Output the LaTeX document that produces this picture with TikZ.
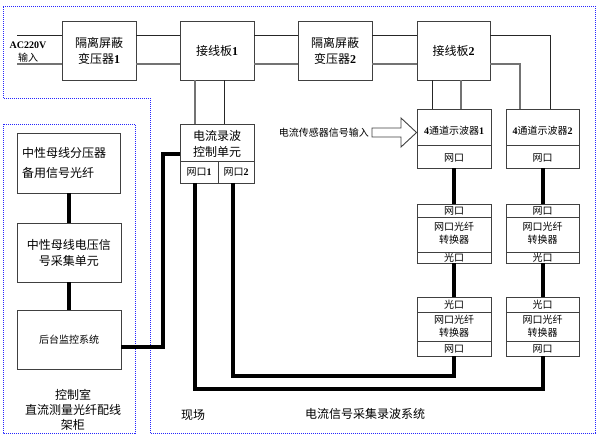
\documentclass[tikz,border=0pt]{standalone}
\usepackage{fontspec}
\setmainfont{Liberation Serif}
\newfontfamily\cjk{Noto Sans CJK SC}
\newcommand\D[1]{{\rmfamily\bfseries #1}}
\begin{document}
\begin{tikzpicture}[x=1pt,y=-1pt,
 box/.style={draw=black!75, line width=0.9pt, fill=white, inner sep=0pt, align=center},
 boxline/.style={draw=black!75, line width=0.9pt},
 big/.style={font=\cjk\fontsize{12}{16}\selectfont},
 small/.style={font=\cjk\fontsize{10}{13}\selectfont},
 lbl/.style={inner sep=0pt, align=center},
 wireA/.style={draw=black!85, line width=0.9pt},
 wireB/.style={draw=black!55, line width=1.2pt},
 fiber/.style={draw=black, line width=4pt},
 region/.style={draw=blue!85, line width=0.8pt, dash pattern=on 1pt off 1pt}]
\useasboundingbox (0,0) rectangle (597,440);

% regions
\draw[region] (3,6) -- (595,6) -- (595,433) -- (150,433) -- (150,98) -- (3,98) -- cycle;
\draw[region] (3,124) rectangle (135,433);

% helper coordinates
\coordinate (yT) at (0,35);
\coordinate (yB) at (0,64);
\coordinate (ac1) at (17,35);
\coordinate (ac2) at (17,64);
\coordinate (xa) at (195,0);
\coordinate (xb) at (224,0);
\coordinate (xc) at (432,0);
\coordinate (xd) at (461,0);
\coordinate (xe) at (520,0);
\coordinate (xf) at (550,0);
\coordinate (xL) at (163,0);
\coordinate (yL) at (0,347);
\coordinate (xp1) at (195,0);
\coordinate (xp2) at (233,0);
\coordinate (yb1) at (0,389);
\coordinate (yb2) at (0,376);

% top row
\node[box, big, minimum width=74, minimum height=59] (t1) at (99,50.5) {隔离屏蔽\\变压器\D{1}};
\node[box, big, minimum width=74, minimum height=59] (j1) at (217,50.5) {接线板\D{1}};
\node[box, big, minimum width=74, minimum height=59] (t2) at (335,50.5) {隔离屏蔽\\变压器\D{2}};
\node[box, big, minimum width=73, minimum height=59] (j2) at (453.5,50.5) {接线板\D{2}};

\node[lbl, font=\rmfamily\bfseries\fontsize{10}{12}\selectfont] (ac) at (28,45) {AC220V};
\node[lbl, small] (acin) at (28,58) {输入};

% control unit
\node[box, minimum width=74, minimum height=59] (cu) at (217,153.5) {};
\draw[boxline] (180,161) -- (254,161) (218,161) -- (218,183);
\node[lbl, big] (cut) at (217,143.5) {电流录波\\控制单元};
\node[lbl, small] (cup1) at (199,171.5) {网口\D{1}};
\node[lbl, small] (cup2) at (236,171.5) {网口\D{2}};

% oscilloscopes
\node[box, minimum width=74, minimum height=59] (o1) at (454,138.5) {};
\draw[boxline] (417,145) -- (491,145);
\node[lbl, small] (o1t) at (454,130.5) {\D{4}通道示波器\D{1}};
\node[lbl, small] (o1p) at (454,158) {网口};
\node[box, minimum width=73, minimum height=59] (o2) at (542.5,138.5) {};
\draw[boxline] (506,145) -- (579,145);
\node[lbl, small] (o2t) at (542.5,130.5) {\D{4}通道示波器\D{2}};
\node[lbl, small] (o2p) at (542.5,158) {网口};

% upper converters
\node[box, minimum width=74, minimum height=59] (c1) at (454,233.5) {};
\draw[boxline] (417,217) -- (491,217) (417,252) -- (491,252);
\node[lbl, small] (c1a) at (454,210.5) {网口};
\node[lbl, small] (c1b) at (454,233) {网口光纤\\转换器};
\node[lbl, small] (c1c) at (454,257.5) {光口};
\node[box, minimum width=73, minimum height=59] (c2) at (542.5,233.5) {};
\draw[boxline] (506,217) -- (579,217) (506,252) -- (579,252);
\node[lbl, small] (c2a) at (542.5,210.5) {网口};
\node[lbl, small] (c2b) at (542.5,233) {网口光纤\\转换器};
\node[lbl, small] (c2c) at (542.5,257.5) {光口};

% lower converters
\node[box, minimum width=74, minimum height=59] (d1) at (454,326.5) {};
\draw[boxline] (417,312) -- (491,312) (417,341) -- (491,341);
\node[lbl, small] (d1a) at (454,304.5) {光口};
\node[lbl, small] (d1b) at (454,326) {网口光纤\\转换器};
\node[lbl, small] (d1c) at (454,348.5) {网口};
\node[box, minimum width=73, minimum height=59] (d2) at (542.5,326.5) {};
\draw[boxline] (506,312) -- (579,312) (506,341) -- (579,341);
\node[lbl, small] (d2a) at (542.5,304.5) {光口};
\node[lbl, small] (d2b) at (542.5,326) {网口光纤\\转换器};
\node[lbl, small] (d2c) at (542.5,348.5) {网口};

% control room boxes
\node[box, minimum width=103, minimum height=60] (m1) at (68.5,163) {};
\node[lbl, big, align=left, anchor=west] (m1t) at (22,163) {中性母线分压器\\[4pt]备用信号光纤};
\node[box, big, minimum width=104, minimum height=59] (m2) at (69,252.5) {中性母线电压信\\号采集单元};
\node[box, small, minimum width=104, minimum height=59] (m3) at (69,339.5) {后台监控系统};

% labels
\node[lbl, big, font=\cjk\fontsize{12}{15}\selectfont] (ctl) at (73,410) {控制室\\直流测量光纤配线\\架柜};
\node[lbl, big] (site) at (193,415) {现场};
\node[lbl, big] (sys) at (365,414) {电流信号采集录波系统};

% sensor input arrow
\draw[draw=black!75, line width=0.9pt, fill=white]
  (372,128) -- (401,128) -- (401,118) -- (o1.west |- 0,132.5) -- (401,147) -- (401,137) -- (372,137) -- cycle;
\node[lbl, small, anchor=east] (sens) at (369,132.5) {电流传感器信号输入};

% power wiring
\draw[wireA] (ac1) -- (t1.west |- yT);
\draw[wireB] (ac2) -- (t1.west |- yB);
\draw[wireA] (t1.east |- yT) -- (j1.west |- yT);
\draw[wireB] (t1.east |- yB) -- (j1.west |- yB);
\draw[wireA] (j1.east |- yT) -- (t2.west |- yT);
\draw[wireB] (j1.east |- yB) -- (t2.west |- yB);
\draw[wireA] (t2.east |- yT) -- (j2.west |- yT);
\draw[wireB] (t2.east |- yB) -- (j2.west |- yB);
\draw[wireA] (j2.east |- yT) -- (xf |- yT) -- (o2.north -| xf);
\draw[wireB] (j2.east |- yB) -- (xe |- yB) -- (o2.north -| xe);
\draw[wireB] (j1.south -| xa) -- (cu.north -| xa);
\draw[wireA] (j1.south -| xb) -- (cu.north -| xb);
\draw[wireA] (j2.south -| xc) -- (o1.north -| xc);
\draw[wireB] (j2.south -| xd) -- (o1.north -| xd);

% fiber / network links
\draw[fiber] (o1.south) -- (c1.north);
\draw[fiber] (c1.south) -- (d1.north);
\draw[fiber] (o2.south) -- (c2.north);
\draw[fiber] (c2.south) -- (d2.north);
\draw[fiber] (m1.south) -- (m1.south |- m2.north);
\draw[fiber] (m2.south) -- (m2.south |- m3.north);
\draw[fiber] (cu.west) -- (cu.west -| xL) -- (xL |- yL) -- (m3.east |- yL);
\draw[fiber] (cu.south -| xp1) -- (xp1 |- yb1) -- (d2.south |- yb1) -- (d2.south);
\draw[fiber] (cu.south -| xp2) -- (xp2 |- yb2) -- (d1.south |- yb2) -- (d1.south);
\end{tikzpicture}
\end{document}
